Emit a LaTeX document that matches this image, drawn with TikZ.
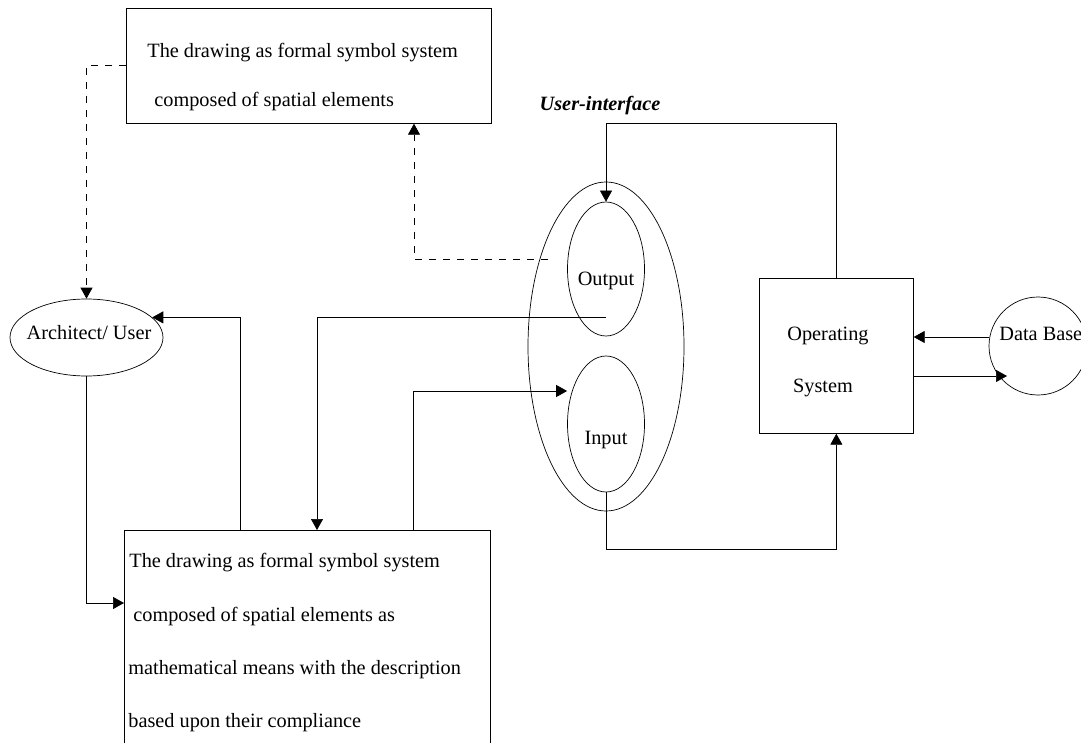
\documentclass[tikz,border=0pt]{standalone}
\usepackage{fontspec}
\setmainfont{Liberation Serif}
\usetikzlibrary{arrows.meta,shapes.geometric}
\begin{document}
\begin{tikzpicture}[x=1pt,y=-1pt,
  line width=0.7pt,
  every node/.style={inner sep=0pt, font=\fontsize{20.3}{24}\selectfont},
  boxnode/.style={draw, rectangle, anchor=north west},
  ovalnode/.style={draw, ellipse},
  txt/.style={anchor=base west},
  ctxt/.style={anchor=base},
  arr/.style={-{Triangle[length=11pt,width=12pt]}},
  dashln/.style={dash pattern=on 7pt off 7pt}
]
\useasboundingbox (0,0) rectangle (1081,743);

% top box
\node[boxnode, minimum width=365pt, minimum height=115pt] (top) at (126,8) {};
\node[txt] (toptext1) at (147,57.5) {The drawing as formal symbol system};
\node[txt] (toptext2) at (154,107) {composed of spatial elements};

% bottom box
\node[boxnode, minimum width=366pt, minimum height=240pt] (bot) at (124,530) {};
\node[txt] (bt1) at (129,567.5) {The drawing as formal symbol system};
\node[txt] (bt2) at (133,621) {composed of spatial elements as};
\node[txt] (bt3) at (128,674.5) {mathematical means with the description};
\node[txt] (bt4) at (128,727.5) {based upon their compliance};

% architect
\node[ovalnode, minimum width=153pt, minimum height=77pt] (arch) at (86.5,337.5) {};
\node[ctxt] (archtext) at (89,339) {Architect/ User};

% user interface
\node[ctxt, font=\fontsize{20.3}{24}\selectfont\bfseries\itshape] (uilabel) at (600,111) {User-interface};
\node[ovalnode, minimum width=156pt, minimum height=329pt] (ui) at (606,346.5) {};
\node[ovalnode, minimum width=77pt, minimum height=134pt] (out) at (606,269) {};
\node[ctxt] (outtext) at (606,285) {Output};
\node[ovalnode, minimum width=77pt, minimum height=136pt] (inp) at (606,424) {};
\node[ctxt] (inptext) at (606,444) {Input};

% operating system
\node[boxnode, minimum width=154pt, minimum height=155pt] (os) at (759,278) {};
\node[ctxt] (ostext1) at (828,340) {Operating};
\node[ctxt] (ostext2) at (823,392) {System};

% data base
\node[draw, circle, minimum size=98pt] (db) at (1038,346) {};
\node[txt] (dbtext) at (999,340) {Data Base};

% helper coordinates
\coordinate (odash) at (548,259);
\coordinate (ostart) at (606,317);
\coordinate (dbin) at (1007,376);
\coordinate (xa) at (414,0);
\coordinate (xb) at (317,0);
\coordinate (xc) at (240,0);
\coordinate (xd) at (413,0);
\coordinate (ya) at (0,603);
\coordinate (yb) at (0,391);
\coordinate (yc) at (0,549);
\coordinate (yd) at (0,337);
\coordinate (ye) at (0,376);

% connectors
\draw[dashln, arr] (top.west) -| (arch.north);
\draw[dashln, arr] (odash) -| (top.south -| xa);
\draw[arr] (os.north) -- (os.north |- top.south) -| (out.north);
\draw[arr] (ostart) -| (bot.north -| xb);
\draw[arr] (bot.north -| xc) |- (arch.17.6);
\draw[arr] (arch.south) |- (bot.north west |- ya);
\draw[arr] (bot.north -| xd) |- (inp.west |- yb);
\draw[arr] (inp.south) -- (inp.south |- yc) -| (os.south);
\draw[arr] (db.west |- yd) -- (os.east |- yd);
\draw[arr] (os.east |- ye) -- (dbin);
\end{tikzpicture}
\end{document}
